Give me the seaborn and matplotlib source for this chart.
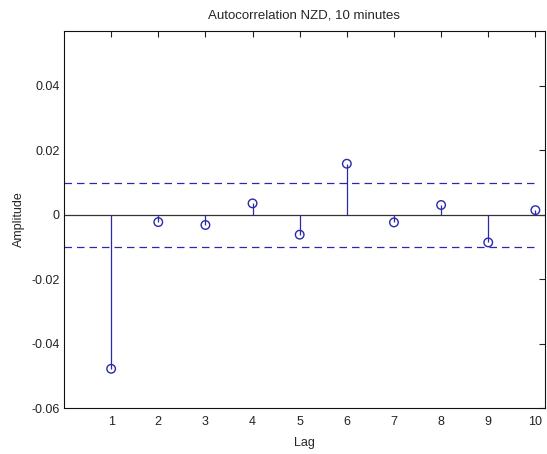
import numpy as np
import pandas as pd
import matplotlib
matplotlib.use("Agg")
import matplotlib.pyplot as plt
import seaborn as sns

# Sample autocorrelation of NZD 10-minute returns
lags = [1, 2, 3, 4, 5, 6, 7, 8, 9, 10]
acf_values = [-0.0478, -0.0023, -0.0032, 0.0035, -0.0062, 0.0158, -0.0024, 0.0030, -0.0086, 0.0014]
conf_bound = 0.0099

df = pd.DataFrame({"Lag": lags, "Amplitude": acf_values})

sns.set_style("white")
plt.rcParams["font.family"] = ["Liberation Sans", "DejaVu Sans"]
plt.rcParams["font.size"] = 9

fig = plt.figure(figsize=(5.47, 4.54), dpi=100)
ax = fig.add_axes([0.117, 0.101, 0.879, 0.831])

stem_color = "#2a2aa8"

# zero baseline
ax.axhline(0, color="#333333", lw=0.9, zorder=1)
# confidence bounds
ax.hlines([conf_bound, -conf_bound], 0, 10, colors=stem_color, linestyles=(0, (6, 4)), lw=0.9, zorder=1)
# stems
ax.vlines(df["Lag"], 0, df["Amplitude"], colors=stem_color, lw=0.9, zorder=2)
# markers
sns.scatterplot(data=df, x="Lag", y="Amplitude", ax=ax, marker="o", s=38,
                facecolor="none", edgecolor=stem_color, linewidth=1.0, zorder=3)

ax.set_xlim(0, 10.2)
ax.set_ylim(-0.06, 0.057)
ax.set_xticks(lags)
ax.set_xticklabels([str(v) for v in lags])
yt = [-0.06, -0.04, -0.02, 0, 0.02, 0.04]
ax.set_yticks(yt)
ax.set_yticklabels(["-0.06", "-0.04", "-0.02", "0", "0.02", "0.04"])

ax.tick_params(direction="in", length=4, width=0.8, top=True, right=True,
               labelsize=9, colors="#222222", pad=3)
ax.tick_params(axis="x", pad=6)
for sp in ax.spines.values():
    sp.set_color("#111111")
    sp.set_linewidth(0.8)

ax.set_xlabel("Lag", fontsize=9, labelpad=6)
ax.set_ylabel("Amplitude", fontsize=9, labelpad=5)
ax.set_title("Autocorrelation NZD, 10 minutes", fontsize=9.5, pad=9)

fig.savefig("out.png", dpi=100, facecolor="white")
